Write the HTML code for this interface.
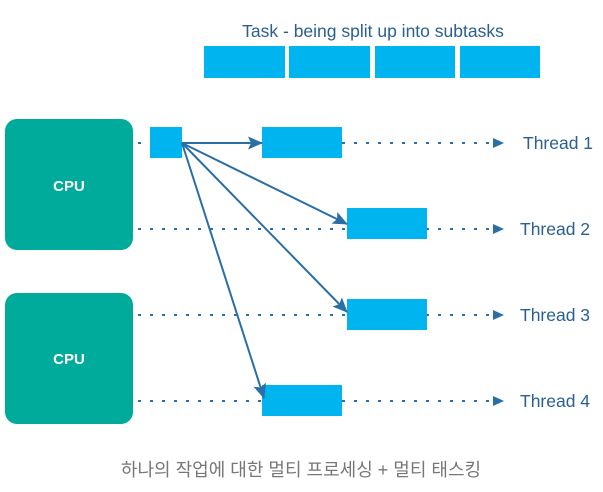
<!DOCTYPE html>
<html><head><meta charset="utf-8"><style>
body{margin:0;width:603px;height:487px;background:#fff;overflow:hidden}
</style></head><body>
<svg width="603" height="487" xmlns="http://www.w3.org/2000/svg" font-family="Liberation Sans, sans-serif">
<defs>
<marker id="a" markerWidth="11" markerHeight="10" refX="10" refY="5" orient="auto" markerUnits="userSpaceOnUse"><path d="M0,0 L11,5 L0,10 z" fill="#2a6ea6"/></marker>
<marker id="b" markerWidth="15" markerHeight="13" refX="14" refY="6.5" orient="auto" markerUnits="userSpaceOnUse"><path d="M0,0 L15,6.5 L0,13 L3,6.5 z" fill="#2a6ea6"/></marker>
</defs>
<text x="373" y="37" text-anchor="middle" font-size="17.5" fill="#2a6090">Task - being split up into subtasks</text>
<g fill="#00b4ef">
<rect x="204" y="46" width="81" height="32"/><rect x="289" y="46" width="81" height="32"/>
<rect x="375" y="46" width="80" height="32"/><rect x="460" y="46" width="80" height="32"/>
</g>
<rect x="5" y="119" width="128" height="131" rx="12" fill="#00ab9c"/>
<rect x="5" y="293" width="128" height="131" rx="12" fill="#00ab9c"/>
<text x="69" y="191" text-anchor="middle" font-size="15" font-weight="bold" fill="#fff">CPU</text>
<text x="69" y="364" text-anchor="middle" font-size="15" font-weight="bold" fill="#fff">CPU</text>
<g stroke="#2a6ea6" stroke-width="2" stroke-dasharray="3,9" marker-end="url(#a)">
<line x1="138" y1="143" x2="503" y2="143"/>
<line x1="138" y1="229" x2="503" y2="229"/>
<line x1="138" y1="315" x2="503" y2="315"/>
<line x1="138" y1="401" x2="503" y2="401"/>
</g>
<g fill="#00b4ef">
<rect x="150" y="127" width="32" height="31"/>
<rect x="262" y="127" width="80" height="31"/>
<rect x="347" y="208" width="80" height="31"/>
<rect x="347" y="299" width="80" height="31"/>
<rect x="262" y="385" width="80" height="31"/>
</g>
<g stroke="#2a6ea6" stroke-width="2" fill="none" marker-end="url(#b)">
<line x1="182" y1="143" x2="262" y2="143"/>
<line x1="182" y1="143" x2="347" y2="224"/>
<line x1="182" y1="143" x2="347" y2="312"/>
<line x1="182" y1="143" x2="264" y2="398"/>
</g>
<g font-size="17.5" fill="#2a6090">
<text x="523" y="149">Thread 1</text>
<text x="520" y="235">Thread 2</text>
<text x="520" y="321">Thread 3</text>
<text x="520" y="407">Thread 4</text>
</g>
<text x="301" y="476" text-anchor="middle" font-size="18" fill="#777" font-family="Liberation Sans, Noto Sans CJK KR, sans-serif">하나의 작업에 대한 멀티 프로세싱 + 멀티 태스킹</text>
</svg>
</body></html>
